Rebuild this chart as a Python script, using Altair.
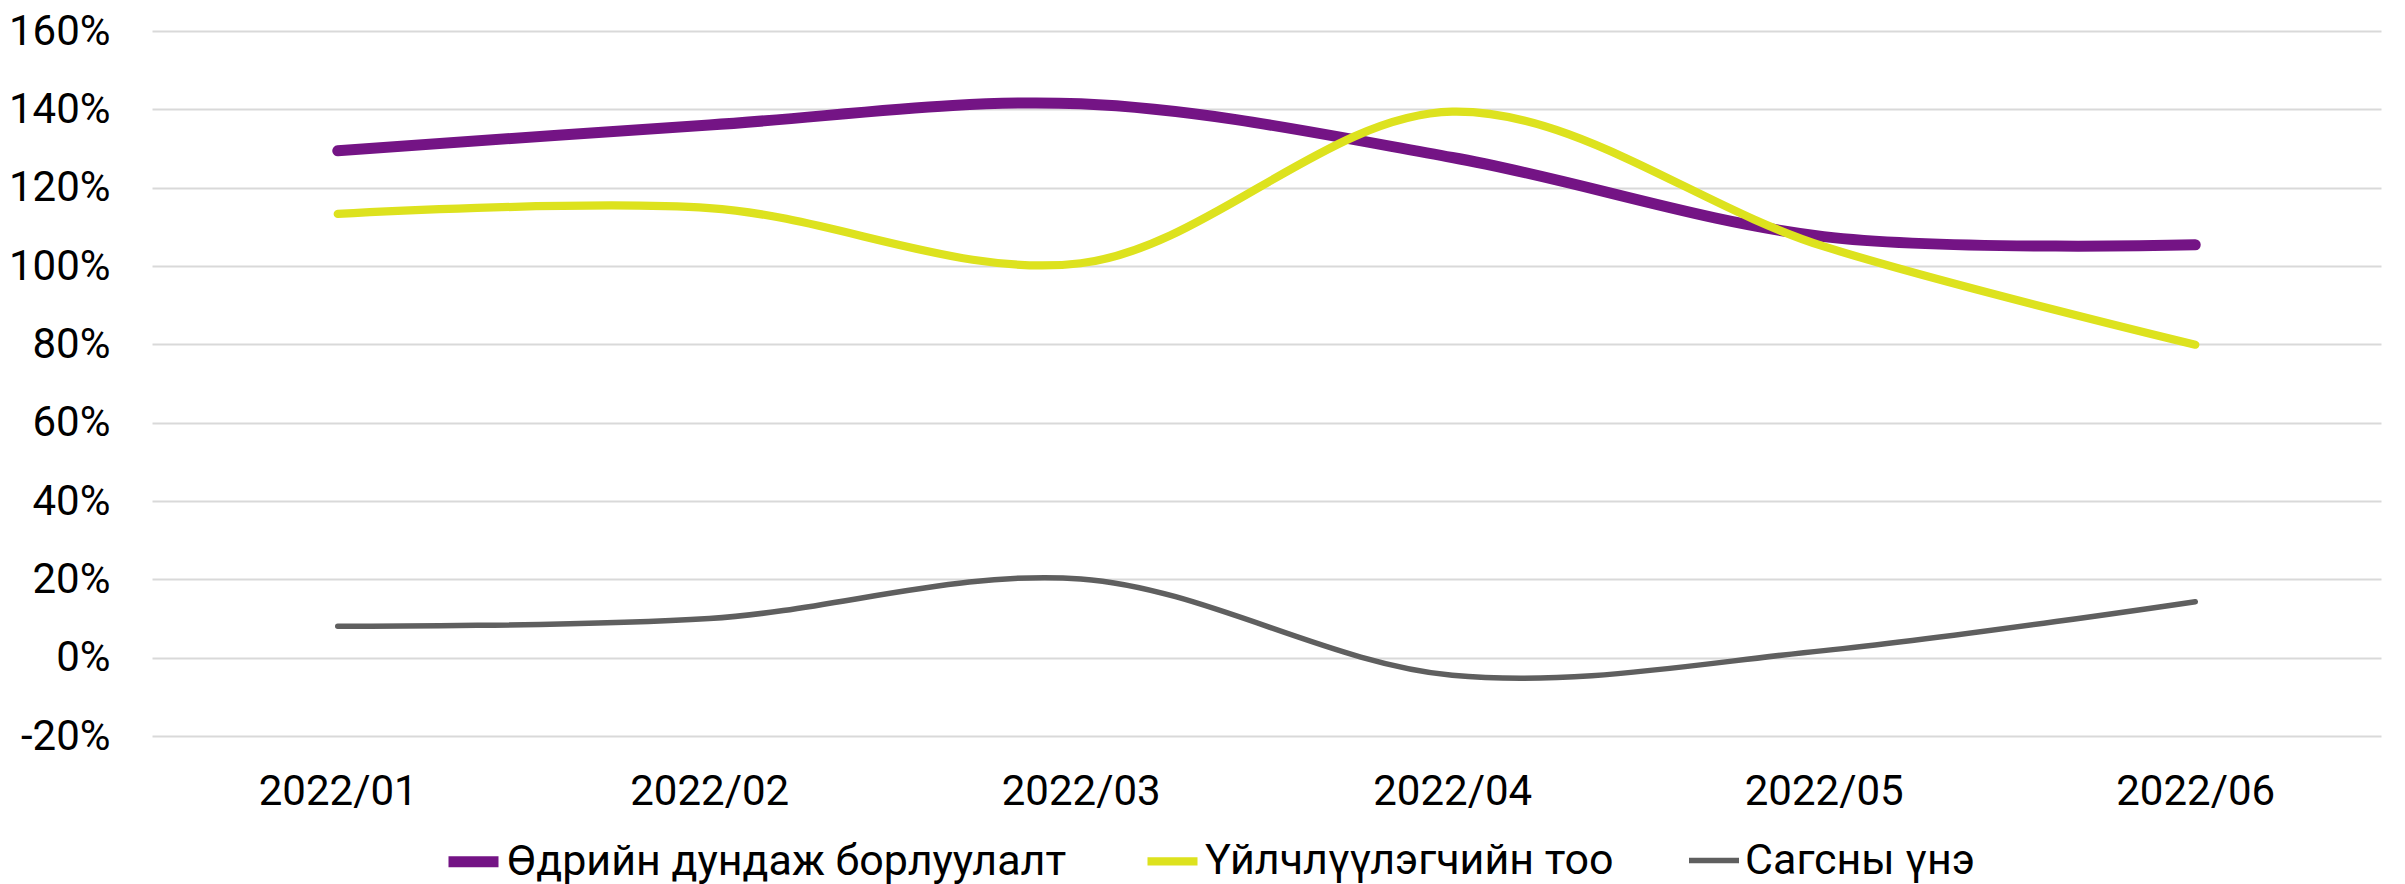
import altair as alt
import pandas as pd

months = ["2022/01", "2022/02", "2022/03", "2022/04", "2022/05", "2022/06"]
series_names = ["Өдрийн дундаж борлуулалт", "Үйлчлүүлэгчийн тоо", "Сагсны үнэ"]
daily_sales = [1.294, 1.360, 1.414, 1.277, 1.075, 1.054]
customers = [1.133, 1.148, 1.007, 1.394, 1.050, 0.799]
basket = [0.080, 0.100, 0.201, -0.045, 0.018, 0.143]
colors = ["#741485", "#DDE21E", "#5F5F5F"]
widths = [11, 5.5, 5.5]

rows = []
for name, vals in zip(series_names, [daily_sales, customers, basket]):
    for m, v in zip(months, vals):
        rows.append({"month": m, "value": v, "series": name})
df = pd.DataFrame(rows)

FONT = "Roboto"
FS = 42

leg = dict(orient="none", direction="horizontal", legendX=291, legendY=800,
           symbolType="stroke", symbolSize=2500,
           labelFontSize=43, labelFont=FONT, labelColor="#000000",
           labelOffset=3, columnPadding=64, labelLimit=0)

chart = alt.Chart(df).mark_line(interpolate="catmull-rom", strokeCap="round").encode(
    x=alt.X("month:N", sort=months, title=None,
            scale=alt.Scale(paddingInner=0, paddingOuter=0.5),
            axis=alt.Axis(labelAngle=0, ticks=False, domain=False, grid=False,
                          labelFontSize=FS, labelFont=FONT, labelColor="#000000",
                          labelPadding=35)),
    y=alt.Y("value:Q", title=None,
            scale=alt.Scale(domain=[-0.2, 1.6], nice=False),
            axis=alt.Axis(format=".0%", values=[-0.2, 0, 0.2, 0.4, 0.6, 0.8, 1.0, 1.2, 1.4, 1.6],
                          labelExpr="replace(datum.label, '\u2212', '-')",
                          ticks=False, domain=False, gridColor="#D9D9D9", gridWidth=2,
                          labelFontSize=FS, labelFont=FONT, labelColor="#000000",
                          labelPadding=42)),
    color=alt.Color("series:N", sort=series_names, title=None,
                    scale=alt.Scale(domain=series_names, range=colors),
                    legend=alt.Legend(**leg)),
    strokeWidth=alt.StrokeWidth("series:N", sort=series_names, title=None,
                                scale=alt.Scale(domain=series_names, range=widths),
                                legend=alt.Legend(**leg)),
).properties(
    width=2229, height=705,
    padding={"left": 0, "top": 2, "right": 5, "bottom": 0}
).configure_view(stroke=None)

chart.save("out.html", embed_options={"renderer": "svg", "actions": False})
